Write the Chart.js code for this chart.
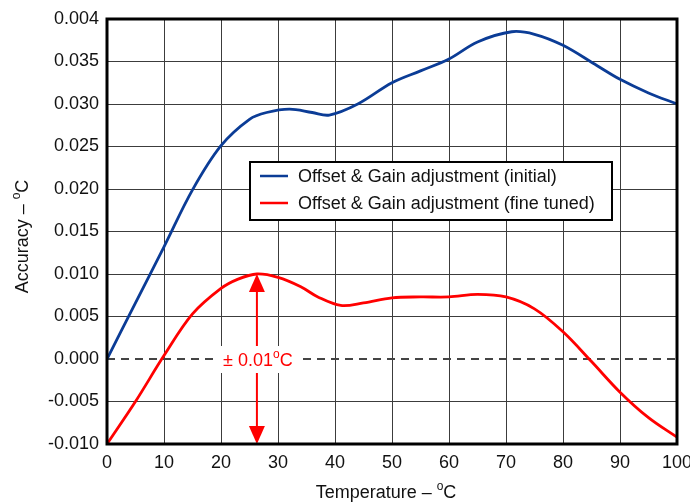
<!DOCTYPE html>
<html>
<head>
<meta charset="utf-8">
<script src="https://cdn.jsdelivr.net/npm/chart.js@4/dist/chart.umd.min.js"></script>
<style>
  html, body { margin: 0; padding: 0; background: #fff; }
  #wrap { width: 690px; height: 502px; position: relative; }
</style>
</head>
<body>
<div id="wrap"><canvas id="chart"></canvas></div>
<script>
'use strict';

// data
const TEMP_INITIAL = [0, 5, 10, 15, 20, 25, 28, 32, 36, 39, 44, 50, 55, 60, 65, 71, 75, 80, 86, 90, 95, 100];
const ACC_INITIAL  = [0, 0.0066, 0.0132, 0.0199, 0.0251, 0.0282, 0.0290, 0.0294, 0.0290, 0.0287, 0.0300, 0.0325, 0.0339, 0.0353, 0.0373, 0.0385, 0.0382, 0.0369, 0.0345, 0.0329, 0.0313, 0.0300];

const TEMP_FINE = [0, 5, 10, 15, 20, 23, 26.3, 30, 34, 37, 41, 45, 50, 55, 60, 65, 70, 75, 80, 85, 90, 95, 100];
const ACC_FINE  = [-0.0100, -0.0050, 0.0004, 0.0053, 0.0083, 0.0094, 0.0100, 0.0096, 0.0085, 0.0073, 0.0063, 0.0066, 0.0072, 0.0073, 0.0073, 0.0076, 0.0073, 0.0059, 0.0032, -0.0003, -0.0039, -0.0069, -0.0092];

const SERIES_LABELS = ['Offset & Gain adjustment (initial)', 'Offset & Gain adjustment (fine tuned)'];
const SERIES_COLORS = ['#0b3c96', '#ff0000'];

const Y_TICK_LABELS = ['-0.010', '-0.005', '0.000', '0.005', '0.010', '0.015', '0.020', '0.025', '0.030', '0.035', '0.004'];

// ± band annotation
const BAND_TEMP = 26.3;
const BAND_TOP = 0.010;
const BAND_BOTTOM = -0.010;
const BAND_TEXT = ['± 0.01', 'o', 'C'];

const X_TITLE = ['Temperature – ', 'o', 'C'];
const Y_TITLE = ['Accuracy – ', 'o', 'C'];

const FONT = '"Liberation Sans", Arial, sans-serif';

const toPoints = (xs, ys) => xs.map((x, i) => ({ x, y: ys[i] }));

// draws text parts [normal, superscript, normal] starting at x (left aligned, baseline y)
function drawSupText(ctx, parts, x, y, size, color) {
  ctx.fillStyle = color;
  ctx.textBaseline = 'alphabetic';
  ctx.textAlign = 'left';
  ctx.font = `${size}px ${FONT}`;
  ctx.fillText(parts[0], x, y);
  x += ctx.measureText(parts[0]).width;
  ctx.font = `${Math.round(size * 0.68)}px ${FONT}`;
  ctx.fillText(parts[1], x, y - size * 0.42);
  x += ctx.measureText(parts[1]).width;
  ctx.font = `${size}px ${FONT}`;
  ctx.fillText(parts[2], x, y);
}
function supTextWidth(ctx, parts, size) {
  ctx.font = `${size}px ${FONT}`;
  let w = ctx.measureText(parts[0]).width + ctx.measureText(parts[2]).width;
  ctx.font = `${Math.round(size * 0.68)}px ${FONT}`;
  return w + ctx.measureText(parts[1]).width;
}

const decorPlugin = {
  id: 'decor',
  afterDatasetsDraw(chart) {
    const { ctx, scales: { x, y } } = chart;
    ctx.save();

    // ± band arrow
    const ax = x.getPixelForValue(BAND_TEMP);
    const yt = y.getPixelForValue(BAND_TOP);
    const yb = y.getPixelForValue(BAND_BOTTOM);
    ctx.strokeStyle = SERIES_COLORS[1];
    ctx.fillStyle = SERIES_COLORS[1];
    ctx.lineWidth = 2;
    ctx.beginPath(); ctx.moveTo(ax, yt + 10); ctx.lineTo(ax, yb - 10); ctx.stroke();
    ctx.beginPath(); ctx.moveTo(ax, yt); ctx.lineTo(ax - 8, yt + 18); ctx.lineTo(ax + 8, yt + 18); ctx.closePath(); ctx.fill();
    ctx.beginPath(); ctx.moveTo(ax, yb); ctx.lineTo(ax - 8, yb - 18); ctx.lineTo(ax + 8, yb - 18); ctx.closePath(); ctx.fill();

    // label box over the arrow
    const y0 = y.getPixelForValue(0);
    const tw = supTextWidth(ctx, BAND_TEXT, 18);
    const bx = ax - tw / 2 + 1;
    ctx.fillStyle = '#fff';
    ctx.fillRect(bx - 5, y0 - 13, tw + 10, 27);
    drawSupText(ctx, BAND_TEXT, bx, y0 + 7, 18, SERIES_COLORS[1]);

    ctx.restore();
  },
  afterDraw(chart) {
    const { ctx, chartArea: a } = chart;
    ctx.save();

    // frame
    ctx.strokeStyle = '#000';
    ctx.lineWidth = 3;
    ctx.strokeRect(a.left, a.top, a.right - a.left, a.bottom - a.top);

    // legend inside plot
    const lx = a.left + 143, ly = a.top + 143, lw = 362, lh = 58;
    ctx.fillStyle = '#fff';
    ctx.fillRect(lx, ly, lw, lh);
    ctx.lineWidth = 2;
    ctx.strokeRect(lx, ly, lw, lh);
    SERIES_LABELS.forEach((lab, i) => {
      const ry = ly + 14 + i * 27;
      ctx.strokeStyle = SERIES_COLORS[i];
      ctx.lineWidth = 2.5;
      ctx.beginPath(); ctx.moveTo(lx + 10, ry); ctx.lineTo(lx + 38, ry); ctx.stroke();
      ctx.fillStyle = '#111';
      ctx.font = `18px ${FONT}`;
      ctx.textBaseline = 'middle';
      ctx.textAlign = 'left';
      ctx.fillText(lab, lx + 48, ry + 1);
    });

    // axis titles
    const xw = supTextWidth(ctx, X_TITLE, 18);
    drawSupText(ctx, X_TITLE, (a.left + a.right) / 2 - xw / 2 - 6, 498, 18, '#111');
    const yw = supTextWidth(ctx, Y_TITLE, 18);
    ctx.translate(28, (a.top + a.bottom) / 2 + 5);
    ctx.rotate(-Math.PI / 2);
    drawSupText(ctx, Y_TITLE, -yw / 2, 0, 18, '#111');

    ctx.restore();
  }
};

const gridColor = '#3c3c3c';

new Chart(document.getElementById('chart'), {
  type: 'line',
  data: {
    datasets: [{
      label: SERIES_LABELS[0],
      data: toPoints(TEMP_INITIAL, ACC_INITIAL),
      borderColor: SERIES_COLORS[0],
      borderWidth: 2.8,
      pointRadius: 0,
      tension: 0.35,
      order: 1,
    }, {
      label: SERIES_LABELS[1],
      data: toPoints(TEMP_FINE, ACC_FINE),
      borderColor: SERIES_COLORS[1],
      borderWidth: 2.8,
      pointRadius: 0,
      tension: 0.35,
      order: 2,
    }, {
      label: 'zero',
      data: [{ x: 0, y: 0 }, { x: 100, y: 0 }],
      borderColor: '#444',
      borderWidth: 2,
      borderDash: [8, 6],
      pointRadius: 0,
      order: 3,
    }],
  },
  options: {
    responsive: true,
    maintainAspectRatio: false,
    animation: false,
    layout: { padding: { left: 0, right: 13, top: 19, bottom: 0 } },
    plugins: { legend: { display: false }, tooltip: { enabled: false } },
    scales: {
      x: {
        type: 'linear', min: 0, max: 100,
        afterFit: s => { s.height = 58; s.paddingRight = 0; s.paddingLeft = 0; },
        border: { display: false },
        grid: { color: gridColor, lineWidth: 1, drawTicks: false },
        ticks: { stepSize: 10, padding: 8, color: '#111', font: { family: FONT, size: 18 }, maxRotation: 0 },
      },
      y: {
        type: 'linear', min: -0.01, max: 0.04,
        afterFit: s => { s.width = 107; s.paddingTop = 0; s.paddingBottom = 0; },
        border: { display: false },
        grid: { color: c => (c.tick && Math.abs(c.tick.value) < 1e-9 ? 'rgba(0,0,0,0)' : gridColor), lineWidth: 1, drawTicks: false },
        ticks: {
          stepSize: 0.005, padding: 8, color: '#111', font: { family: FONT, size: 18 },
          callback: (v, i) => Y_TICK_LABELS[i],
        },
      },
    },
  },
  plugins: [decorPlugin],
});
</script>
</body>
</html>
